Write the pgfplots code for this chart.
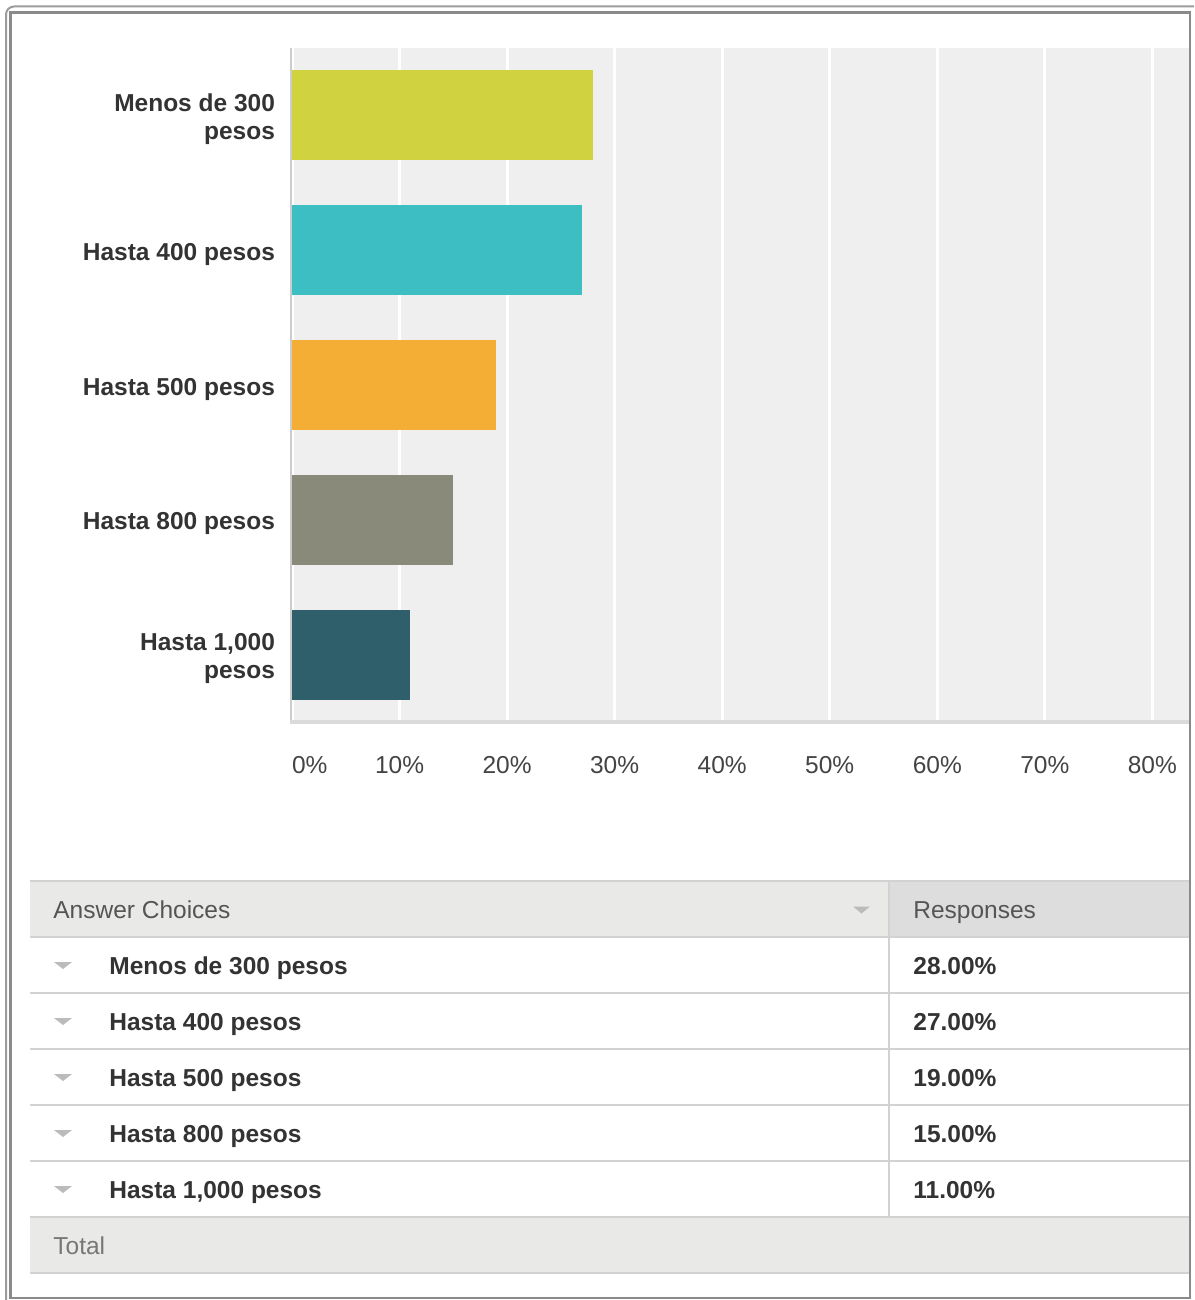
\documentclass[border=0pt]{standalone}
\usepackage{pgfplots}
\pgfplotsset{compat=1.18}
\usepackage{fontspec}
\setmainfont{Liberation Sans}
\definecolor{cA}{HTML}{D0D33F}
\definecolor{cB}{HTML}{3CBEC2}
\definecolor{cC}{HTML}{F5AE35}
\definecolor{cD}{HTML}{898A7A}
\definecolor{cE}{HTML}{2E5F6B}
\definecolor{plotbg}{HTML}{EFEFEF}
\definecolor{labelc}{HTML}{333333}
\definecolor{tickc}{HTML}{444444}
\definecolor{framec}{HTML}{8A8A8A}
\definecolor{headbg}{HTML}{E9E9E8}
\definecolor{headbgr}{HTML}{DDDDDD}
\definecolor{rulec}{HTML}{D2D2D2}
\definecolor{tric}{HTML}{BBBBBB}
\definecolor{headtxt}{HTML}{555555}
\definecolor{totaltxt}{HTML}{777777}
\newcommand\tf{\fontsize{12.25}{14}\selectfont}
\begin{document}
\begin{tikzpicture}[x=0.5pt,y=-0.5pt]
\clip (0,0) rectangle (1194,1300);
\useasboundingbox (0,0) rectangle (1194,1300);
\fill[white] (0,0) rectangle (1194,1300);
\begin{axis}[
  at={(146pt,-361pt)}, anchor=south west, scale only axis,
  width=449pt, height=337pt,
  xmin=0, xmax=83.5, ymin=0.5, ymax=5.5, y dir=reverse,
  axis background/.style={fill=plotbg},
  axis line style={draw=none},
  xmajorgrids, major grid style={white, line width=1.5pt},
  major tick length=0pt,
  xtick={0,10,...,80},
  xticklabels={\makebox[0pt][l]{0\%},10\%,20\%,30\%,40\%,50\%,60\%,70\%,80\%},
  ytick={1,2,3,4,5},
  yticklabels={{Menos de 300\\pesos},{Hasta 400 pesos},{Hasta 500 pesos},{Hasta 800 pesos},{Hasta 1,000\\pesos}},
  yticklabel style={align=right, font=\tf\bfseries, text=labelc, yshift=-2pt},
  xticklabel style={font=\tf, text=tickc},
  xticklabel shift=13.5pt, yticklabel shift=5pt,
]
\addplot[xbar, bar width=45pt, bar shift=0pt, fill=cA, draw=none] coordinates {(28,1)};
\addplot[xbar, bar width=45pt, bar shift=0pt, fill=cB, draw=none] coordinates {(27,2)};
\addplot[xbar, bar width=45pt, bar shift=0pt, fill=cC, draw=none] coordinates {(19,3)};
\addplot[xbar, bar width=45pt, bar shift=0pt, fill=cD, draw=none] coordinates {(15,4)};
\addplot[xbar, bar width=45pt, bar shift=0pt, fill=cE, draw=none] coordinates {(11,5)};
\end{axis}
% axis lines
\draw[draw=black!20, line width=1pt] (291,48) -- (291,722);
\draw[draw=black!14, line width=2pt] (290,722) -- (1190,722);
% table
\fill[headbg] (30,881) rectangle (889,937);
\fill[headbgr] (889,881) rectangle (1190,937);
\fill[headbg] (30,1217) rectangle (1190,1273);
\foreach \yy in {881,937,993,1049,1105,1161,1217,1273}
  \draw[rulec, line width=1pt] (30,\yy) -- (1190,\yy);
\draw[rulec, line width=1pt] (889,881) -- (889,1217);
\node[anchor=base west, inner sep=0, font=\tf, text=headtxt] at (53,918.5) {Answer Choices};
\node[anchor=base west, inner sep=0, font=\tf, text=headtxt] at (913,918.5) {Responses};
\fill[tric] (853,906.5) -- (870,906.5) -- (861.5,913.5) -- cycle;
\foreach \c/\lab/\val in {965/Menos de 300 pesos/28.00,1021/Hasta 400 pesos/27.00,1077/Hasta 500 pesos/19.00,1133/Hasta 800 pesos/15.00,1189/{Hasta 1,000 pesos}/11.00}{
  \fill[tric] (54,\c-3) -- (72,\c-3) -- (63,\c+4) -- cycle;
  \node[anchor=base west, inner sep=0, font=\tf\bfseries, text=labelc] at (109,\c+9.5) {\lab};
  \node[anchor=base west, inner sep=0, font=\tf\bfseries, text=labelc] at (913,\c+9.5) {\val\%};
}
\node[anchor=base west, inner sep=0, font=\tf, text=totaltxt] at (53,1254.5) {Total};
% frame
\fill[white] (1191,0) rectangle (1194,1300);
\draw[framec!85, line width=1pt, rounded corners=4pt] (6,6.5) rectangle (1210,1310);
\draw[framec, line width=1.2pt] (10.5,12.5) -- (1190,12.5) -- (1190,1298) -- (10.5,1298) -- cycle;
\end{tikzpicture}
\end{document}
